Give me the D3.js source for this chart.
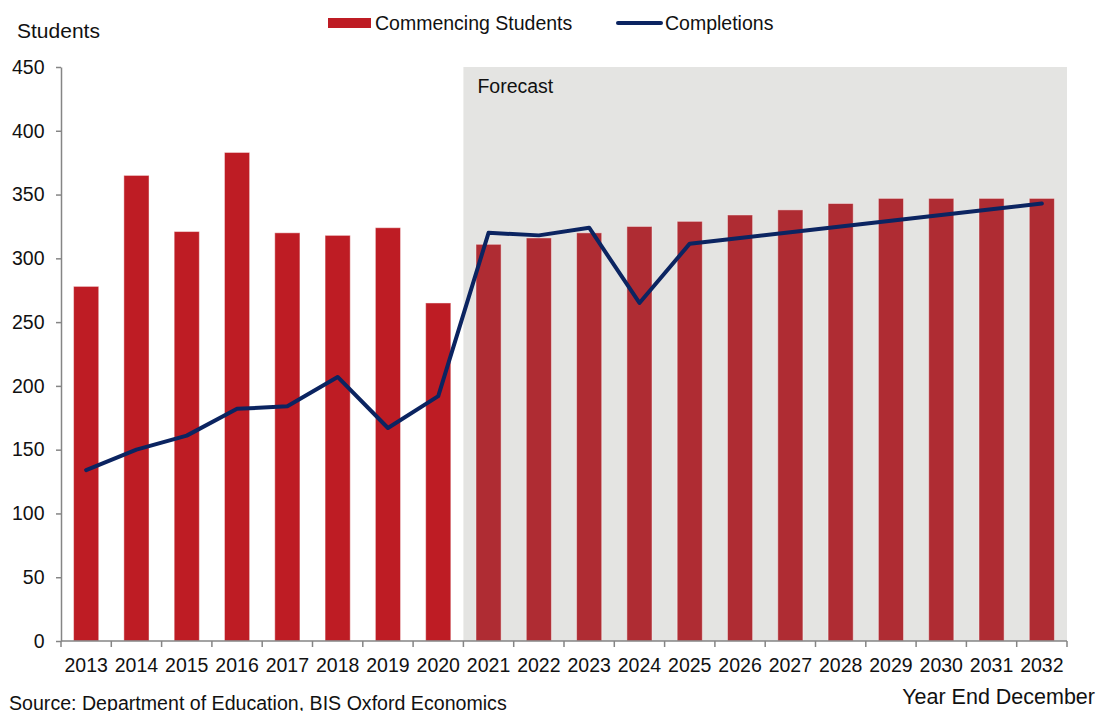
<!DOCTYPE html>
<html>
<head>
<meta charset="utf-8">
<script src="https://cdn.jsdelivr.net/npm/d3@7/dist/d3.min.js"></script>
<style>
  html, body { margin: 0; padding: 0; background: #ffffff; }
  svg { display: block; font-family: "Liberation Sans", Arial, sans-serif; }
</style>
</head>
<body>
<svg id="chart" width="1099" height="711"></svg>
<script>
// Years on the category axis
const years = ["2013","2014","2015","2016","2017","2018","2019","2020","2021","2022",
               "2023","2024","2025","2026","2027","2028","2029","2030","2031","2032"];
// First forecast year
const forecastStart = "2021";
// Commencing students per year
const commencing = [278, 365, 321, 383, 320, 318, 324, 265, 311, 316,
                    320, 325, 329, 334, 338, 343, 347, 347, 347, 347];
// Completions per year
const completions = [134, 150, 161, 182, 184, 207, 167, 192, 320, 318,
                     324, 265, 311.5, 316, 320.5, 325, 329.5, 334, 338.5, 343];
// Value axis ticks
const yTicks = [0, 50, 100, 150, 200, 250, 300, 350, 400, 450];

const seriesNames = ["Commencing Students", "Completions"];

const svg = d3.select("#chart");
const plot = { left: 61, right: 1067, top: 67, bottom: 641 };

const x = d3.scaleBand().domain(years).range([plot.left, plot.right]).padding(0);
const y = d3.scaleLinear().domain([0, 450]).range([plot.bottom, plot.top]);

const red = "#be1c24", redForecast = "#af2c33", navy = "#0b2461";
const axisGrey = "#858585";

// Forecast shading
svg.append("rect")
  .attr("x", x(forecastStart))
  .attr("y", y(450))
  .attr("width", plot.right - x(forecastStart))
  .attr("height", y(0) - y(450))
  .attr("fill", "#e4e4e2");

svg.append("text")
  .attr("x", x(forecastStart) + 14)
  .attr("y", 93)
  .attr("font-size", 19.5)
  .attr("fill", "#111")
  .text("Forecast");

// Bars
const data = years.map((yr, i) => ({ yr, c: commencing[i], k: completions[i], f: yr >= forecastStart }));
const bw = x.bandwidth();
svg.append("g").selectAll("rect")
  .data(data).join("rect")
  .attr("x", d => x(d.yr) + bw * 0.25)
  .attr("width", bw * 0.5)
  .attr("y", d => y(d.c))
  .attr("height", d => y(0) - y(d.c))
  .attr("fill", d => d.f ? redForecast : red)
  .attr("stroke", "#ffffff")
  .attr("stroke-opacity", 0.45)
  .attr("stroke-width", 1);

// Completions line
svg.append("path")
  .datum(data)
  .attr("fill", "none")
  .attr("stroke", navy)
  .attr("stroke-width", 4)
  .attr("stroke-linejoin", "round")
  .attr("stroke-linecap", "round")
  .attr("d", d3.line().x(d => x(d.yr) + bw / 2).y(d => y(d.k)));

// Y axis
const yAxis = svg.append("g")
  .attr("transform", `translate(${plot.left},0)`)
  .call(d3.axisLeft(y).tickValues(yTicks).tickSize(5).tickPadding(11.5).tickSizeOuter(0));
yAxis.select(".domain").attr("stroke", axisGrey).attr("stroke-width", 1.5);
yAxis.selectAll(".tick line").attr("stroke", axisGrey).attr("stroke-width", 1.5);
yAxis.selectAll(".tick text")
  .attr("font-size", 19.5).attr("fill", "#111")
  .attr("font-family", "Liberation Sans, Arial, sans-serif");

// X axis: labels centred under each year, ticks on category boundaries
const xAxis = svg.append("g")
  .attr("transform", `translate(0,${plot.bottom})`)
  .call(d3.axisBottom(x).tickSize(0).tickPadding(17));
xAxis.select(".domain").remove();
xAxis.selectAll(".tick text")
  .attr("font-size", 19.5).attr("fill", "#111")
  .attr("font-family", "Liberation Sans, Arial, sans-serif");

const bounds = d3.range(years.length + 1).map(i => plot.left + i * x.step());
svg.append("line")
  .attr("x1", plot.left).attr("x2", plot.right)
  .attr("y1", plot.bottom).attr("y2", plot.bottom)
  .attr("stroke", axisGrey).attr("stroke-width", 1.5);
svg.append("g").selectAll("line")
  .data(bounds).join("line")
  .attr("x1", d => d).attr("x2", d => d)
  .attr("y1", plot.bottom).attr("y2", plot.bottom + 6)
  .attr("stroke", axisGrey).attr("stroke-width", 1.5);

// Axis titles
svg.append("text")
  .attr("x", 17).attr("y", 38)
  .attr("font-size", 21).attr("fill", "#111")
  .text("Students");

svg.append("text")
  .attr("x", 1095).attr("y", 704)
  .attr("text-anchor", "end")
  .attr("font-size", 21.5).attr("fill", "#111")
  .text("Year End December");

svg.append("text")
  .attr("x", 9).attr("y", 710)
  .attr("font-size", 19.6).attr("fill", "#111")
  .text("Source: Department of Education, BIS Oxford Economics");

// Legend
const legend = svg.append("g");
legend.append("rect")
  .attr("x", 328).attr("y", 18).attr("width", 43).attr("height", 10)
  .attr("fill", red);
legend.append("text")
  .attr("x", 375).attr("y", 30)
  .attr("font-size", 19.5).attr("fill", "#111")
  .text(seriesNames[0]);
legend.append("line")
  .attr("x1", 618).attr("x2", 661).attr("y1", 23).attr("y2", 23)
  .attr("stroke", navy).attr("stroke-width", 4).attr("stroke-linecap", "round");
legend.append("text")
  .attr("x", 665).attr("y", 30)
  .attr("font-size", 19.5).attr("fill", "#111")
  .text(seriesNames[1]);
</script>
</body>
</html>
